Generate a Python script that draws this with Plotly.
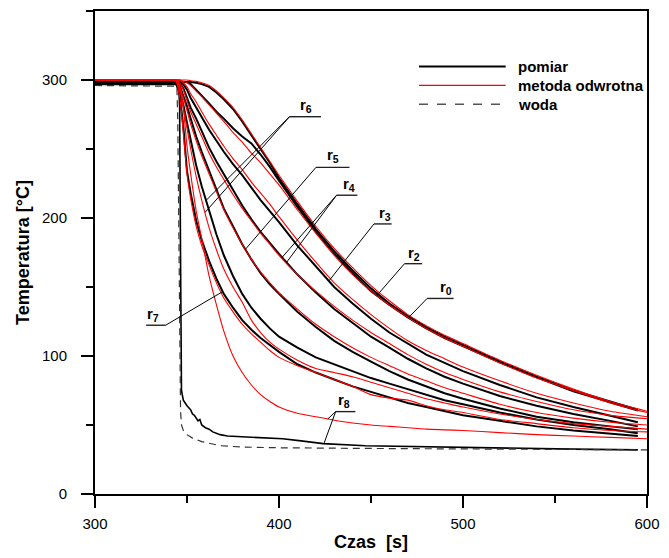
import numpy as np
import plotly.graph_objects as go

# ---------------------------------------------------------------- data
# time grid [s] of the inverse-method (metoda odwrotna) curves
czas = [300, 340, 344, 346, 348, 350, 352, 355, 358, 362, 366, 370, 375, 380,
        385, 390, 395, 400, 410, 420, 430, 440, 450, 460, 470, 480, 490, 500,
        520, 540, 560, 580, 600]
# measurements stop a little earlier
czas_pomiar = [300, 340, 344, 346, 348, 350, 352, 355, 358, 362, 366, 370, 375,
               380, 385, 390, 395, 400, 410, 420, 430, 440, 450, 460, 470, 480,
               490, 500, 520, 540, 560, 580, 595]

# measured temperatures [degC] at radii r0..r7
pomiar_r0 = [299, 299, 299, 299, 299, 299, 298.5, 298, 297, 295, 291, 286, 279, 270,
             260, 250, 240, 229, 210, 192, 176, 162, 149, 138, 129, 121, 114, 108,
             96, 85, 75, 67, 61]
pomiar_r2 = [299, 299, 299, 299, 299, 298.5, 297, 293, 289, 283, 277, 272, 265, 259,
             254, 246, 237, 227, 208, 190, 174, 160, 147, 137, 128, 120, 113, 107,
             95.5, 84.5, 74.5, 66.5, 60.5]
pomiar_r3 = [299, 299, 299, 299, 297, 293, 287, 280, 273, 264, 256, 248, 239, 231,
             222, 213, 205, 197, 180, 165, 150, 138, 127, 117, 109, 101, 95, 89,
             79, 70, 63, 57, 52]
pomiar_r4 = [299, 299, 299, 298, 294, 287, 280, 272, 263, 251, 241, 232, 220, 209,
             199, 190, 182, 174, 159, 146, 134, 124, 114, 106, 98, 91, 85, 80,
             71, 64, 58, 53, 49]
pomiar_r5 = [298, 298, 298, 296, 289, 281, 272, 259, 248, 234, 220, 207, 194, 181,
             170, 160, 152, 145, 132, 121, 111, 103, 96, 89, 83, 78, 73, 69,
             62, 56, 52, 49, 47]
pomiar_r6 = [297, 297, 297, 292, 282, 269, 256, 238, 223, 205, 188, 173, 158, 145,
             135, 127, 120, 114, 106, 99, 94, 89, 84, 80, 76, 72, 68, 65,
             59, 54, 50, 47, 44]
pomiar_r7 = [298, 298, 298, 290, 266, 234, 218, 198, 184, 169, 156, 145, 135, 126,
             119, 113, 108, 103, 94, 88, 83, 78, 74, 70, 66, 63, 60, 57,
             53, 49, 46, 44, 42]

# measured temperature at r8 (sampled densely around the quench)
czas_r8 = [300, 344, 345.5, 346, 346.5, 347, 348, 349, 350, 352, 353, 354, 355, 356,
           357, 358, 360, 362, 364, 366, 368, 372, 378, 384, 392, 402, 412, 424,
           447, 470, 500, 530, 560, 595]
pomiar_r8 = [297, 297, 296, 280, 170, 75, 68, 66, 64, 61, 58, 57, 55, 53,
             54, 50, 48, 47, 45, 44, 43, 42, 41.5, 41, 40.5, 40, 38.5, 36.5,
             35, 34.5, 33.5, 33, 32.5, 32]

# inverse-method temperatures [degC] at radii r0..r8
odwr_r0 = [300, 300, 300, 300, 300, 300, 299.5, 299, 298, 296, 292, 287, 280, 271,
           261, 251, 241, 231, 212, 194, 178, 164, 151, 140, 130, 122, 115, 109,
           97, 86, 76, 67, 60]
odwr_r2 = [300, 300, 300, 300, 299, 298, 296, 292, 288, 282, 276, 270, 262, 255,
           247, 240, 232, 224, 206, 189, 173, 159, 147, 137, 128, 120, 113, 107,
           95, 84, 75, 66, 59]
odwr_r3 = [300, 300, 300, 300, 298, 295, 290, 284, 277, 268, 260, 252, 243, 235,
           226, 218, 210, 201, 184, 168, 153, 141, 130, 120, 111, 104, 98, 92,
           82, 73, 66, 60, 56]
odwr_r4 = [300, 300, 300, 298, 293, 285, 277, 268, 259, 247, 237, 228, 217, 207,
           198, 189, 181, 173, 159, 147, 136, 126, 117, 109, 101, 94, 88, 83,
           74, 67, 61, 57, 54.5]
odwr_r5 = [300, 300, 300, 295, 287, 278, 268, 256, 245, 232, 219, 206, 193, 181,
           170, 161, 153, 146, 134, 123, 114, 106, 99, 93, 87, 82, 77, 73,
           65, 59, 55, 52, 50]
odwr_r6 = [300, 300, 299, 293, 280, 265, 250, 230, 213, 193, 177, 163, 150, 139,
           126, 117, 110, 105, 97, 91, 88, 85, 81, 77, 73, 69, 66, 63,
           58, 54, 51, 49, 47]
odwr_r7 = [300, 300, 299, 288, 262, 232, 214, 194, 180, 166, 153, 142, 132, 123,
           116, 110, 104, 99, 93, 88, 83, 78, 72, 69.5, 68, 64, 61, 59,
           54, 51, 48, 46, 45]
odwr_r8 = [300, 300, 300, 296, 280, 252, 232, 205, 185, 158, 137, 118, 100, 88,
           79, 72, 67, 63, 58.5, 56, 53.5, 51.5, 50, 49, 48, 47, 46.5, 46,
           44.5, 43, 42, 41, 40]

# quenching water temperature
czas_woda = [300, 343, 344.5, 345, 345.5, 346, 346.5, 347, 348, 350, 353, 358, 363,
             368, 380, 400, 450, 500, 550, 600]
woda = [296, 296, 295.5, 270, 180, 95, 60, 50, 46, 43, 40.5, 38, 36.5,
        35, 34, 33.5, 33, 32.5, 32, 32]

pomiar = {"r0": pomiar_r0, "r2": pomiar_r2, "r3": pomiar_r3, "r4": pomiar_r4,
          "r5": pomiar_r5, "r6": pomiar_r6, "r7": pomiar_r7}
odwr = {"r0": odwr_r0, "r2": odwr_r2, "r3": odwr_r3, "r4": odwr_r4,
        "r5": odwr_r5, "r6": odwr_r6, "r7": odwr_r7, "r8": odwr_r8}

# ---------------------------------------------------------------- style
FONT = "Liberation Sans, Arial, sans-serif"
BLACK = "#000000"
RED = "#ff0000"

fig = go.Figure()

for name, vals in pomiar.items():
    fig.add_trace(go.Scatter(x=czas_pomiar, y=vals, mode="lines", name="pomiar",
                             line=dict(color=BLACK, width=2), showlegend=False))
fig.add_trace(go.Scatter(x=czas_r8, y=pomiar_r8, mode="lines", name="pomiar",
                         line=dict(color=BLACK, width=1.6), showlegend=False))
for name, vals in odwr.items():
    fig.add_trace(go.Scatter(x=czas, y=vals, mode="lines", name="metoda odwrotna",
                             line=dict(color=RED, width=1.1, shape="spline",
                                       smoothing=0.6),
                             showlegend=False))
fig.add_trace(go.Scatter(x=czas_woda, y=woda, mode="lines", name="woda",
                         line=dict(color="#333333", width=1.2, dash="7px,5px"),
                         showlegend=False))

# ---------------------------------------------------------------- radius labels with leader lines
def on_curve(t, xs, ys):
    return float(np.interp(t, xs, ys))

# (text, label centre (t, T), underline (t_start, t_end, T), pointer origin t, targets)
radius_labels = [
    ("r<sub>0</sub>", (490.6, 149.5), (480.5, 494.9, 141.7), 480.5,
     [(470.8, czas_pomiar, pomiar_r0)]),
    ("r<sub>2</sub>", (473.5, 174.6), (468.2, 477.8, 166.9), 468.2,
     [(453.2, czas_pomiar, pomiar_r2)]),
    ("r<sub>3</sub>", (457.5, 203.4), (451.6, 461.2, 195.7), 451.6,
     [(427.1, czas_pomiar, pomiar_r3)]),
    ("r<sub>4</sub>", (438.3, 224.5), (431.3, 442.6, 216.5), 431.3,
     [(404.1, czas_pomiar, pomiar_r4), (401.4, czas, odwr_r4)]),
    ("r<sub>5</sub>", (429.2, 245.0), (420.1, 438.3, 236.7), 420.1,
     [(381.7, czas_pomiar, pomiar_r5)]),
    ("r<sub>6</sub>", (414.8, 281.3), (405.7, 422.8, 273.4), 405.7,
     [(360.3, czas_pomiar, pomiar_r6), (359.8, czas, odwr_r6)]),
    ("r<sub>7</sub>", (331.5, 130.0), (327.8, 338.4, 122.3), 338.4,
     [(369.4, czas_pomiar, pomiar_r7)]),
    ("r<sub>8</sub>", (435.5, 67.5), (430.8, 441.5, 59.7), 430.8,
     [(426.5, czas, odwr_r8), (424.4, czas_r8, pomiar_r8)]),
]

shapes = []
annotations = []
for text, (lx, ly), (u0, u1, uy), p0, targets in radius_labels:
    shapes.append(dict(type="line", xref="x", yref="y", x0=u0, x1=u1, y0=uy, y1=uy,
                       line=dict(color="#222222", width=1.4)))
    for t_end, xs, ys in targets:
        shapes.append(dict(type="line", xref="x", yref="y", x0=p0, y0=uy,
                           x1=t_end, y1=on_curve(t_end, xs, ys),
                           line=dict(color=BLACK, width=1)))
    annotations.append(dict(x=lx, y=ly, xref="x", yref="y", text=f"<b>{text}</b>",
                            showarrow=False, xanchor="center", yanchor="middle",
                            font=dict(family=FONT, size=15, color=BLACK)))

# ---------------------------------------------------------------- legend block
legend_items = [("pomiar", dict(color=BLACK, width=2)),
                ("metoda odwrotna", dict(color=RED, width=1.2)),
                ("woda", dict(color="#555555", width=1.4, dash="dash"))]
leg_y = [0.885, 0.846, 0.807]
for (label, style), yy in zip(legend_items, leg_y):
    shapes.append(dict(type="line", xref="paper", yref="paper", x0=0.587, x1=0.744,
                       y0=yy, y1=yy, line=style))
    annotations.append(dict(x=0.762, y=yy, xref="paper", yref="paper",
                            text=f"<b>{label}</b>", showarrow=False,
                            xanchor="left", yanchor="middle",
                            font=dict(family=FONT, size=15, color=BLACK)))

axis_common = dict(showgrid=False, zeroline=False, showline=True, linecolor=BLACK,
                   linewidth=2, mirror=True, ticks="outside", ticklen=12,
                   tickwidth=2, tickcolor=BLACK, ticklabeloverflow="allow",
                   tickfont=dict(family=FONT, size=15, color=BLACK))

fig.update_layout(
    width=669, height=558,
    margin=dict(l=95, r=12, t=9, b=63),
    paper_bgcolor="white", plot_bgcolor="white",
    showlegend=False,
    shapes=shapes, annotations=annotations,
    xaxis=dict(range=[300, 600], tick0=300, dtick=100,
               minor=dict(dtick=50, ticks="outside", ticklen=7, tickwidth=2,
                          tickcolor=BLACK),
               ticklabelstandoff=3,
               title=dict(text="<b>Czas\u00a0 [s]</b>", standoff=4,
                          font=dict(family=FONT, size=18, color=BLACK)),
               **axis_common),
    yaxis=dict(range=[0, 350], tick0=0, dtick=100,
               minor=dict(dtick=50, ticks="outside", ticklen=7, tickwidth=2,
                          tickcolor=BLACK),
               ticklabelstandoff=11,
               title=dict(text="<b>Temperatura [\u00b0C]</b>", standoff=8,
                          font=dict(family=FONT, size=18, color=BLACK)),
               **axis_common),
)

fig.write_html("out.html")
